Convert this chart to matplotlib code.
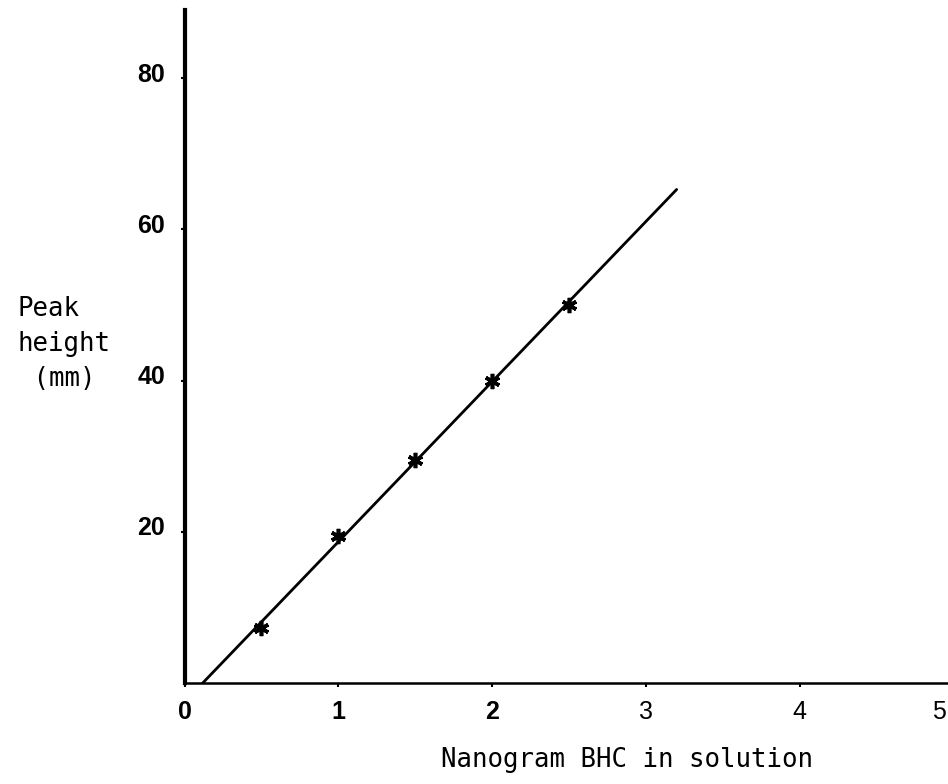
import numpy as np
import matplotlib
matplotlib.use("Agg")
import matplotlib.pyplot as plt
from matplotlib.transforms import ScaledTranslation

# Data
nanogram = [0.5, 1.0, 1.5, 2.0, 2.5]
peak_height = [7.3, 19.5, 29.5, 40.0, 50.0]
line_end_x = 3.2
x_ticks = [0, 1, 2, 3, 4, 5]
x_tick_labels = ["0", "1", "2", "3", "4", "5"]
y_ticks = [20, 40, 60, 80]
y_tick_labels = ["20", "40", "60", "80"]
x_label = "Nanogram BHC in solution"
y_label = "Peak\nheight\n (mm)"

W, H = 948, 784
fig = plt.figure(figsize=(W / 100, H / 100), dpi=100)
fig.patch.set_facecolor("white")

x0_px, x5_px = 184.5, 953.5
y0_px, ytop_px = 683, 10
ax = fig.add_axes([x0_px / W, 1 - y0_px / H, (x5_px - x0_px) / W, (y0_px - ytop_px) / H])
ax.set_xlim(0, 5)
ax.set_ylim(0, 89)
ax.set_facecolor("white")

for s in ["top", "right"]:
    ax.spines[s].set_visible(False)
ax.spines["left"].set_linewidth(3.0)
ax.spines["bottom"].set_linewidth(1.8)
ax.spines["left"].set_color("black")
ax.spines["bottom"].set_color("black")

# calibration line (least-squares fit of the points)
slope, intercept = np.polyfit(nanogram, peak_height, 1)
x_start = -intercept / slope
lx = np.array([x_start, line_end_x])
ax.plot(lx, slope * lx + intercept, color="black", lw=2.0, solid_capstyle="round")

# data points
ax.plot(nanogram, peak_height, linestyle="none", marker=(6, 2, 0), markersize=11,
        markeredgewidth=2.6, color="black")
ax.plot(nanogram, peak_height, linestyle="none", marker="o", markersize=5,
        color="black")

# x ticks: all but the last as regular ticks; the last one sits at the figure edge
ax.set_xticks(x_ticks[:-1])
ax.set_xticklabels(x_tick_labels[:-1])
ax.set_yticks(y_ticks)
ax.set_yticklabels(y_tick_labels)
ax.tick_params(axis="x", length=3, width=1.5, pad=9, direction="out")
ax.tick_params(axis="y", length=3, width=1.5, pad=11, direction="out")

xlabs = ax.get_xticklabels()
for i, lab in enumerate(xlabs):
    lab.set_fontfamily("Liberation Sans")
    lab.set_fontsize(18)
    lab.set_fontweight("bold" if i < 3 else "normal")
for lab in ax.get_yticklabels():
    lab.set_fontfamily("Liberation Sans")
    lab.set_fontsize(18)
    lab.set_fontweight("bold")
    lab.set_transform(lab.get_transform() + ScaledTranslation(0, 6 / 100, fig.dpi_scale_trans))

ax.annotate(x_tick_labels[-1], xy=(x_ticks[-1], 0), xycoords="data",
            xytext=(-15, -17), textcoords="offset pixels", ha="center", va="top",
            fontfamily="Liberation Sans", fontsize=18, annotation_clip=False)

fig.text(627 / W, 1 - 760 / H, x_label, ha="center", va="center",
         family="DejaVu Sans Mono", fontsize=18.5)
fig.text(18 / W, 1 - 296 / H, y_label, ha="left", va="top",
         family="DejaVu Sans Mono", fontsize=18.5, linespacing=1.45)

fig.savefig("out.png", dpi=100, facecolor="white")
